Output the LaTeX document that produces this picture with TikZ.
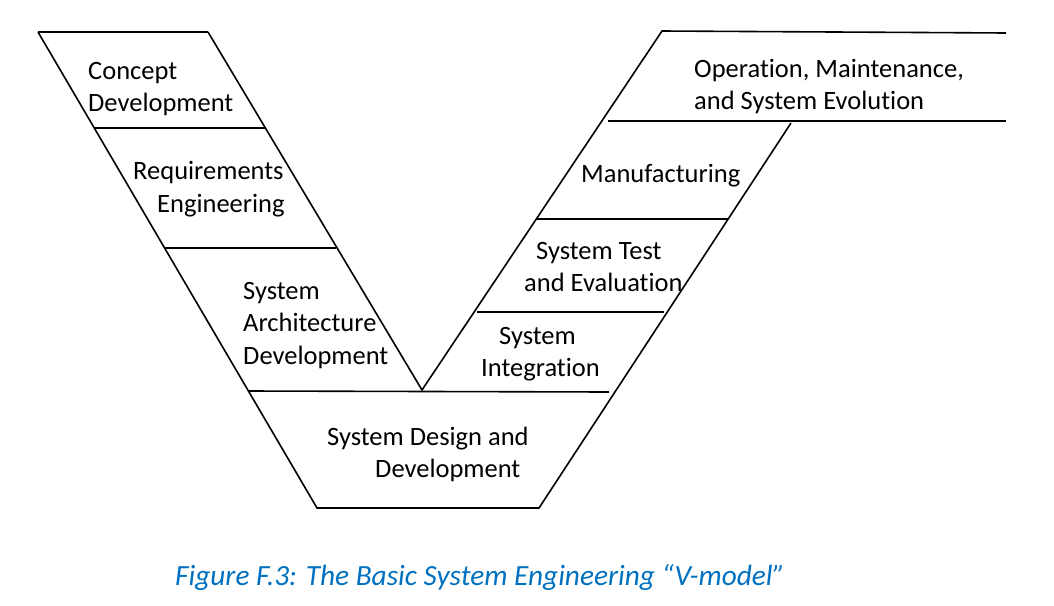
\documentclass[tikz,border=0pt]{standalone}
\usepackage{fontspec}
\setmainfont[Ligatures=NoCommon]{Carlito}
\definecolor{capblue}{HTML}{0070C0}
\begin{document}
\begin{tikzpicture}[x=1pt,y=-1pt,
  edge/.style={line width=1.6pt,black},
  lbl/.style={anchor=base west,inner sep=0pt,font=\fontsize{26.5}{32}\selectfont},
  figcaption/.style={anchor=base west,inner sep=0pt,text=capblue,font=\fontsize{29.3}{34}\selectfont\itshape}]
\useasboundingbox (0,0) rectangle (1054,605);
% corner points
\coordinate (LTo) at (38,32);
\coordinate (LTi) at (208,32);
\coordinate (L1a) at (94,128);
\coordinate (L1b) at (265,128);
\coordinate (L2a) at (165,248);
\coordinate (L2b) at (336,248);
\coordinate (L3a) at (248,391);
\coordinate (L3b) at (609,392);
\coordinate (Apex) at (422,390);
\coordinate (Bl) at (317,508);
\coordinate (Br) at (539,508);
\coordinate (RTi) at (662,31);
\coordinate (RTe) at (1006,33);
\coordinate (R1a) at (608,121);
\coordinate (R1b) at (1006,121);
\coordinate (Ro) at (791,123);
\coordinate (R2a) at (537,219);
\coordinate (R2b) at (728,219);
\coordinate (R3a) at (477,312);
\coordinate (R3b) at (664,312);
% V outline
\draw[edge] (LTo) -- (LTi);
\draw[edge] (LTo) -- (Bl) -- (Br) -- (Ro);
\draw[edge] (LTi) -- (Apex) -- (RTi) -- (RTe);
\draw[edge] (L1a) -- (L1b);
\draw[edge] (L2a) -- (L2b);
\draw[edge] (L3a) -- (L3b);
\draw[edge] (R1a) -- (R1b);
\draw[edge] (R2a) -- (R2b);
\draw[edge] (R3a) -- (R3b);
% labels
\node[lbl] (c1) at (88,79) {Concept};
\node[lbl] (c2) at (88,111) {Development};
\node[lbl] (r1) at (133,179) {Requirements};
\node[lbl] (r2) at (157,212) {Engineering};
\node[lbl] (a1) at (243,299) {System};
\node[lbl] (a2) at (243,331) {Architecture};
\node[lbl] (a3) at (243,364) {Development};
\node[lbl] (d1) at (327,445) {System Design and};
\node[lbl] (d2) at (375,477) {Development};
\node[lbl] (i1) at (499,344) {System};
\node[lbl] (i2) at (481,376) {Integration};
\node[lbl] (t1) at (536,259) {System Test};
\node[lbl] (t2) at (524,291) {and Evaluation};
\node[lbl] (m1) at (581,182) {Manufacturing};
\node[lbl] (o1) at (694,77) {Operation, Maintenance,};
\node[lbl] (o2) at (694,109) {and System Evolution};
\node[figcaption] (fig) at (175,585) {Figure F.3: The Basic System Engineering “V-model”};
\end{tikzpicture}
\end{document}
